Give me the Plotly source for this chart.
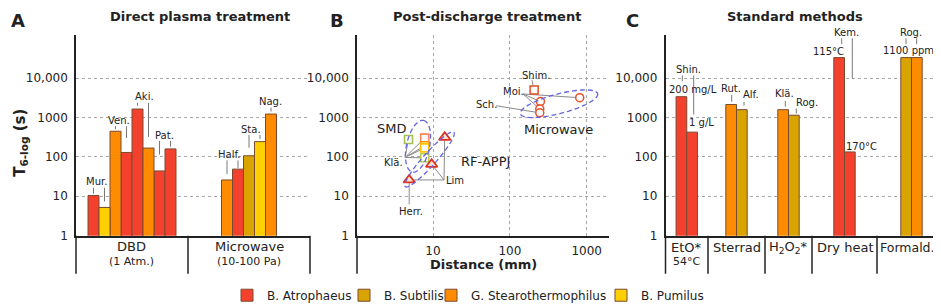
import math
import plotly.graph_objects as go

W, H = 941, 304
FONT = "DejaVu Sans"
INK = "#222222"

# ------------------------------------------------------------------ data
SPECIES = ["B. Atrophaeus", "B. Subtilis", "G. Stearothermophilus", "B. Pumilus"]
SPECIES_COLORS = ["#f4412e", "#d9a300", "#ff8c00", "#ffd000"]

Y_TICKS = [1, 10, 100, 1000, 10000]
Y_TICKTEXT = ["1", "10", "100", "1000", "10,000"]

# Panel A: direct plasma treatment
A_groups = ["DBD", "Microwave"]
A_group_notes = ["(1 Atm.)", "(10-100 Pa)"]
A_bar_group = [0, 0, 0, 0, 0, 0, 0, 0, 1, 1, 1, 1, 1]
A_bar_species = ["B. Atrophaeus", "B. Pumilus", "G. Stearothermophilus", "B. Atrophaeus",
                 "B. Atrophaeus", "G. Stearothermophilus", "B. Atrophaeus", "B. Atrophaeus",
                 "G. Stearothermophilus", "B. Atrophaeus", "B. Subtilis", "B. Pumilus",
                 "G. Stearothermophilus"]
A_bar_values = [10.5, 5.2, 450, 130, 1650, 168, 44, 160, 26, 49, 107, 245, 1230]
A_labels = ["Mur.", "Ven.", "Aki.", "Pat.", "Half.", "Sta.", "Nag."]
A_label_bars = [[0, 1], [2, 3], [4, 5], [6, 7], [8, 9], [10, 11], [12]]

# Panel B: post-discharge treatment (distance mm, T6-log s)
B_smd_distance = [4.8, 7.8, 7.8, 7.8, 7.8]
B_smd_t6 = [277, 300, 192, 170, 95]
B_smd_colors = ["#a3c14a", "#f4875a", "#ff9500", "#ffc400", "#b5cc55"]
B_rf_distance = [4.9, 9.6, 14.2]
B_rf_t6 = [26, 65, 316]
B_mw_distance = [250, 245, 245, 811]
B_mw_t6 = [2560, 1660, 1320, 3200]
B_shim_distance = [207]
B_shim_t6 = [5000]
B_xticks = [10, 100, 1000]
B_xticktext = ["10", "100", "1000"]

# Panel C: standard methods
C_methods = ["EtO*", "Sterrad", "H<sub>2</sub>O<sub>2</sub>*", "Dry heat", "Formald.*"]
C_method_notes = ["54°C", "", "", "", ""]
C_bar_group = [0, 0, 1, 1, 2, 2, 3, 3, 4, 4]
C_bar_species = ["B. Atrophaeus", "B. Atrophaeus", "G. Stearothermophilus", "B. Subtilis",
                 "G. Stearothermophilus", "B. Subtilis", "B. Atrophaeus", "B. Atrophaeus",
                 "B. Subtilis", "G. Stearothermophilus"]
C_bar_values = [3400, 427, 2150, 1590, 1590, 1150, 33500, 134, 33500, 33500]

# ------------------------------------------------------------------ layout geometry (pixels)
YTOP, YBOT = 28, 233
Y_RANGE = [0, 5.09]
A_L, A_R = 68, 302
B_L, B_R = 349, 601
B_XRANGE = [0.011, 3.29]
C_L, C_R = 657.5, 938
A_CELLS = [112, 122]
C_CELLS = [42.5, 57, 47, 65, 69]
A_BW, C_BW = 11, 10.7
BOX_BOTTOM = 272
TICK_COLOR = "#777777"
LEAD_COLOR = "#8a8a8a"
ELLIPSE_COLOR = "#6464e0"
GRID_COLOR = "#a8a8a8"


def px(x):
    return x / W


def py(y):
    return 1 - y / H


def y_pix(v):
    return YBOT - (math.log10(v) - Y_RANGE[0]) / (Y_RANGE[1] - Y_RANGE[0]) * (YBOT - YTOP)


def bx_pix(d):
    return B_L + (math.log10(d) - B_XRANGE[0]) / (B_XRANGE[1] - B_XRANGE[0]) * (B_R - B_L)


def bar_positions(groups, cells, bw):
    edges = [0]
    for c in cells:
        edges.append(edges[-1] + c)
    counts = {}
    for g in groups:
        counts[g] = counts.get(g, 0) + 1
    seen = {}
    xs = []
    for g in groups:
        k = seen.get(g, 0)
        seen[g] = k + 1
        n = counts[g]
        center = (edges[g] + edges[g + 1]) / 2
        xs.append(center + (k - (n - 1) / 2) * bw)
    return xs, edges


fig = go.Figure()
legend_ids = ["legend", "legend2", "legend3", "legend4"]
shown = set()


def add_bars(xs, species_list, values, xa, ya, bw):
    for si, sp in enumerate(SPECIES):
        idx = [i for i, s in enumerate(species_list) if s == sp]
        if not idx:
            continue
        fig.add_trace(go.Bar(
            x=[xs[i] for i in idx], y=[values[i] for i in idx], width=bw, name=sp,
            marker=dict(color=SPECIES_COLORS[si], line=dict(color="#7a4a30", width=1)),
            xaxis=xa, yaxis=ya, legend=legend_ids[si], legendgroup=sp,
            showlegend=sp not in shown))
        shown.add(sp)


A_x, A_edges = bar_positions(A_bar_group, A_CELLS, A_BW)
C_x, C_edges = bar_positions(C_bar_group, C_CELLS, C_BW)
add_bars(A_x, A_bar_species, A_bar_values, "x", "y", A_BW)
add_bars(C_x, C_bar_species, C_bar_values, "x3", "y3", C_BW)

shapes = []
annotations = []


def line(x0, y0, x1, y1, color=INK, width=1.5, layer="above", dash=None):
    d = dict(type="line", xref="paper", yref="paper", x0=px(x0), y0=py(y0), x1=px(x1), y1=py(y1),
             line=dict(color=color, width=width), layer=layer)
    if dash:
        d["line"]["dash"] = dash
    shapes.append(d)


def text(t, x, y, size=10, bold=False, angle=0, xanchor="center"):
    annotations.append(dict(text=f"<b>{t}</b>" if bold else t, x=px(x), y=py(y), xref="paper",
                            yref="paper", showarrow=False, xanchor=xanchor, yanchor="middle",
                            textangle=angle, borderpad=0,
                            font=dict(family=FONT, size=size, color=INK)))


def ellipse(cx, cy, a, b, phi_deg, n=72):
    phi = math.radians(phi_deg)
    ux, uy = math.cos(phi), -math.sin(phi)
    vx, vy = math.sin(phi), math.cos(phi)
    pts = []
    for i in range(n + 1):
        t = 2 * math.pi * i / n
        x = cx + a * math.cos(t) * ux + b * math.sin(t) * vx
        y = cy + a * math.cos(t) * uy + b * math.sin(t) * vy
        pts.append(f"{px(x):.5f},{py(y):.5f}")
    shapes.append(dict(type="path", xref="paper", yref="paper", path="M " + " L ".join(pts) + " Z",
                       line=dict(color=ELLIPSE_COLOR, width=1.3, dash="5px,3px"), layer="above"))


# ---- Panel B markers
fig.add_trace(go.Scatter(x=B_smd_distance, y=B_smd_t6, mode="markers", xaxis="x2", yaxis="y2",
                         showlegend=False,
                         marker=dict(symbol="square", size=8, color="white",
                                     line=dict(color=B_smd_colors, width=1.6))))
fig.add_trace(go.Scatter(x=B_rf_distance, y=B_rf_t6, mode="markers", xaxis="x2", yaxis="y2",
                         showlegend=False,
                         marker=dict(symbol="triangle-up", size=10, color="#fde3cf",
                                     line=dict(color="#e0301e", width=1.8))))
fig.add_trace(go.Scatter(x=B_mw_distance, y=B_mw_t6, mode="markers", xaxis="x2", yaxis="y2",
                         showlegend=False,
                         marker=dict(symbol="circle", size=8, color="white",
                                     line=dict(color="#e8502a", width=1.5))))
fig.add_trace(go.Scatter(x=B_shim_distance, y=B_shim_t6, mode="markers", xaxis="x2", yaxis="y2",
                         showlegend=False,
                         marker=dict(symbol="square", size=8, color="white",
                                     line=dict(color="#e0502a", width=1.5))))

# ---- category boxes
for xl in (A_L, B_L, C_L):
    line(xl, YBOT, xl, BOX_BOTTOM)
for e in A_edges[1:]:
    line(A_L + e, YBOT, A_L + e, BOX_BOTTOM)
for e in C_edges[1:]:
    line(C_L + e, YBOT, C_L + e, BOX_BOTTOM)
for g, name in enumerate(A_groups):
    cx = A_L + (A_edges[g] + A_edges[g + 1]) / 2
    text(name, cx, 244, size=13)
    text(A_group_notes[g], cx, 259, size=11)
for g, name in enumerate(C_methods):
    cx = C_L + (C_edges[g] + C_edges[g + 1]) / 2
    text(name, cx - (1 if g == 4 else 0), 245, size=12.5 if g == 4 else 13)
    if C_method_notes[g]:
        text(C_method_notes[g], cx, 259, size=11)

# ---- Panel A bar labels
A_label_pos = [(88, 178), (111, 115), (136, 91), (156, 130), (221, 150), (243, 124), (262, 96)]
A_tick_ends = [[190, 198], [124, 133], [100, 132], [150, 142], [170, 164], [143, 134], [106]]
for lab, (lx, ly), bars, ends in zip(A_labels, A_label_pos, A_label_bars, A_tick_ends):
    text(lab, lx, ly)
    for b, ye in zip(bars, ends):
        xb = A_L + A_x[b]
        line(xb, ly + 6, xb, ye, color=TICK_COLOR, width=1)

# ---- Panel C bar labels
C_texts = [("Shin.", 680, 63), ("200 mg/L", 685, 83), ("1 g/L", 693, 117), ("Rut.", 723, 82),
           ("Alf.", 743, 89), ("Klä.", 776, 88), ("Rog.", 799, 97), ("Kem.", 838, 25),
           ("115°C", 820, 45), ("170°C", 853, 142), ("Rog.", 903, 25), ("1100 ppm", 900, 44)]
C_ticks = [(674.3, 69, 75), (685.7, 69, 109), (723.7, 89, 96), (736, 96, 100), (777.3, 95, 101),
           (788.3, 103, 108), (833.7, 31, 37), (844.3, 31, 72), (898, 31, 37), (908.7, 31, 37)]
for t, x, y in C_texts:
    text(t, x, y)
for x, y0, y1 in C_ticks:
    line(x, y0, x, y1, color=TICK_COLOR, width=1)

# ---- Panel B annotations, leader lines and ellipses
for t, x, y, s in [("SMD", 383, 123, 13), ("Klä.", 385, 158, 10), ("RF-APPJ", 477, 157, 13),
                   ("Lim", 437, 177, 10), ("Herr.", 403, 208, 10), ("Shim.", 528, 69, 10),
                   ("Moi.", 506, 85, 10), ("Sch.", 478, 99, 10), ("Microwave", 550, 124, 13)]:
    text(t, x, y, size=s, xanchor="left" if t == "Lim" else "center")
for d, v in zip(B_smd_distance, B_smd_t6):
    line(397, 153, bx_pix(d), y_pix(v), color=LEAD_COLOR, width=1, layer="below")
for d, v in zip(B_rf_distance, B_rf_t6):
    line(436, 176, bx_pix(d), y_pix(v), color=LEAD_COLOR, width=1, layer="below")
line(bx_pix(B_rf_distance[0]), y_pix(B_rf_t6[0]), bx_pix(B_rf_distance[0]), 201,
     color=LEAD_COLOR, width=1, layer="below")
line(524, 74, bx_pix(B_shim_distance[0]), y_pix(B_shim_t6[0]), color=LEAD_COLOR, width=1, layer="below")
for i in (0, 1, 3):
    line(515, 88, bx_pix(B_mw_distance[i]), y_pix(B_mw_t6[i]), color=LEAD_COLOR, width=1, layer="below")
line(488, 100, bx_pix(B_mw_distance[2]), y_pix(B_mw_t6[2]), color=LEAD_COLOR, width=1, layer="below")

ellipse(410, 141.5, 27, 11.5, 78)
ellipse(421.5, 155, 37, 6.5, 49)
ellipse(551, 98, 40, 10, 15)

# ---- titles
text("Direct plasma treatment", 192, 9, size=13, bold=True)
text("Post-discharge treatment", 479, 9, size=13, bold=True)
text("Standard methods", 787, 9, size=13, bold=True)
text("A", 10, 13, size=18, bold=True)
text("B", 329, 13, size=18, bold=True)
text("C", 624, 13, size=18, bold=True)
text("T<sub>6-log</sub> (s)", 13, 138, size=15, bold=True, angle=-90)
text("Distance (mm)", 475, 263, size=13, bold=True)

# ------------------------------------------------------------------ axes
common_y = dict(type="log", range=Y_RANGE, domain=[py(YBOT), py(YTOP)], tickvals=Y_TICKS,
                ticktext=Y_TICKTEXT, showgrid=True, gridcolor=GRID_COLOR, griddash="dot",
                gridwidth=1, showline=True, linecolor=INK, linewidth=1.5, ticks="",
                zeroline=False, tickfont=dict(family=FONT, size=12, color=INK),
                ticklabelstandoff=4)
common_x = dict(showline=True, linecolor=INK, linewidth=1.5, showgrid=False,
                showticklabels=False, ticks="", zeroline=False)

fig.update_layout(
    width=W, height=H, margin=dict(l=0, r=0, t=0, b=0),
    plot_bgcolor="white", paper_bgcolor="white", barmode="overlay",
    font=dict(family=FONT, size=12, color=INK),
    xaxis=dict(common_x, domain=[px(A_L), px(A_R)], range=[0, A_R - A_L], anchor="y"),
    yaxis=dict(common_y, anchor="x"),
    xaxis2=dict(type="log", domain=[px(B_L), px(B_R)], range=B_XRANGE, anchor="y2",
                tickvals=B_xticks, ticktext=B_xticktext, showgrid=True, gridcolor=GRID_COLOR,
                griddash="dot", gridwidth=1, showline=True, linecolor=INK, linewidth=1.5,
                ticks="", zeroline=False, tickfont=dict(family=FONT, size=12, color=INK),
                ticklabelstandoff=3),
    yaxis2=dict(common_y, anchor="x2"),
    xaxis3=dict(common_x, domain=[px(C_L), px(C_R)], range=[0, C_R - C_L], anchor="y3"),
    yaxis3=dict(common_y, anchor="x3"),
    shapes=shapes,
    annotations=annotations,
    showlegend=True,
)
legend_text_start = [263, 380, 467, 637]
for lid, xs in zip(legend_ids, legend_text_start):
    fig.update_layout({lid: dict(x=px(xs - 44), y=py(294), xanchor="left", yanchor="middle",
                                 orientation="h", bgcolor="rgba(0,0,0,0)",
                                 font=dict(family=FONT, size=12, color=INK))})

fig.write_html("out.html")
